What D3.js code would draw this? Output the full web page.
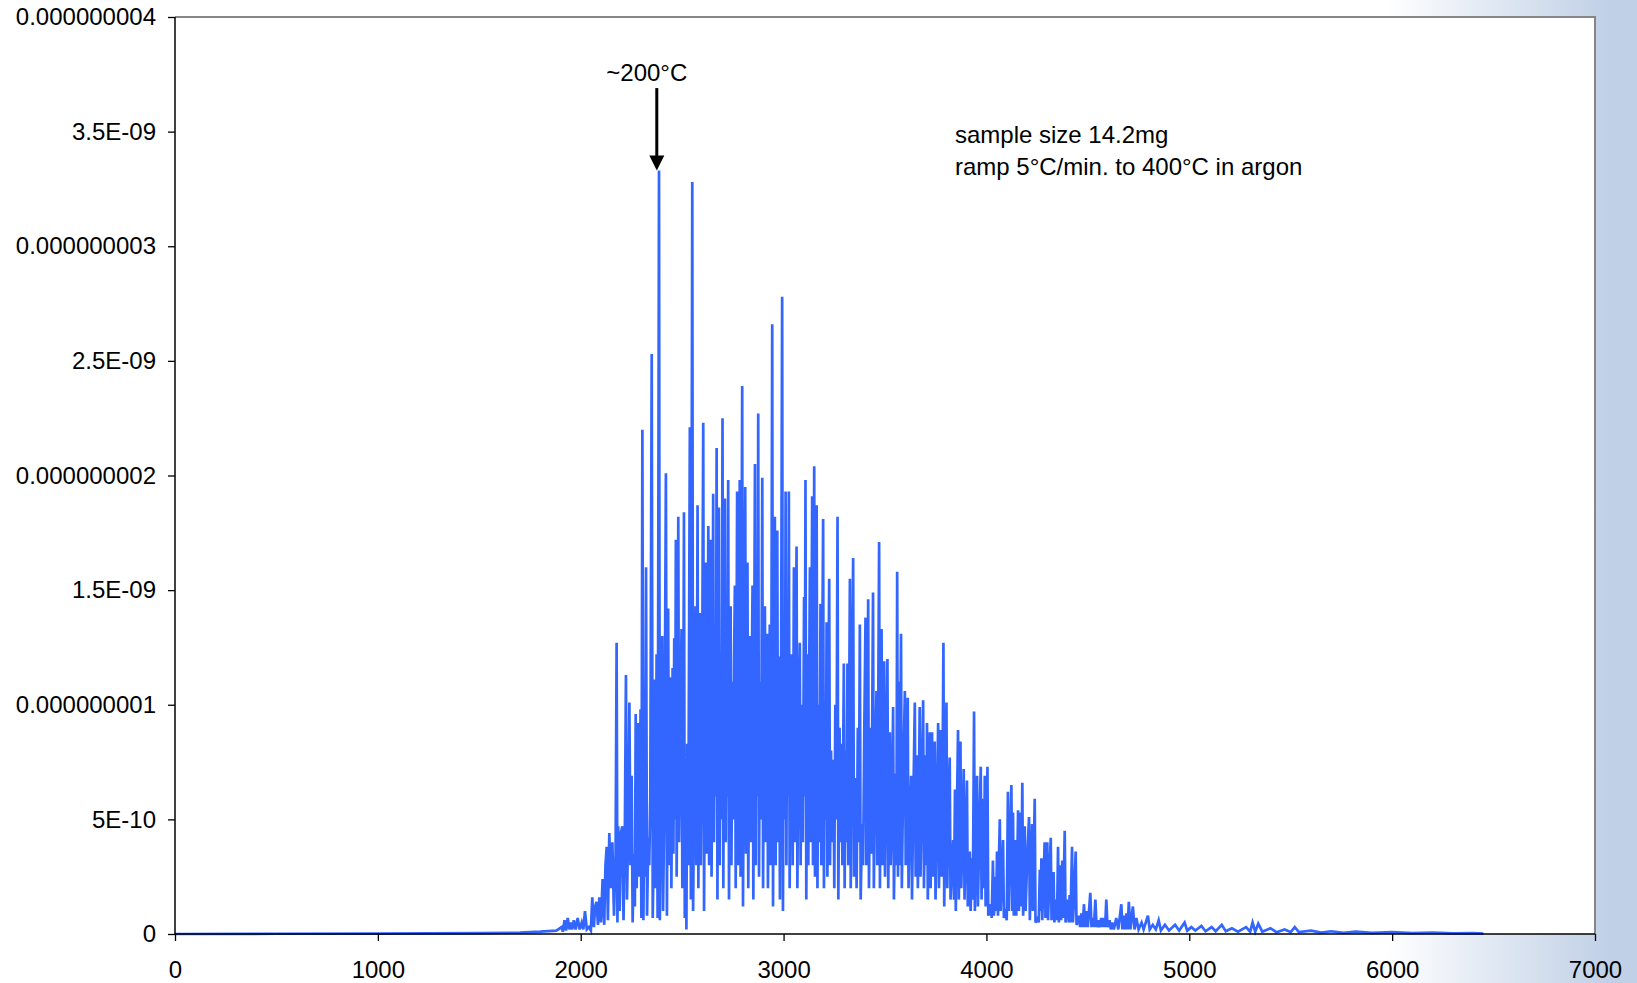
<!DOCTYPE html>
<html>
<head>
<meta charset="utf-8">
<script src="https://cdn.jsdelivr.net/npm/d3@7"></script>
<style>
  html, body { margin: 0; padding: 0; background: #ffffff; }
  svg { display: block; }
  text { font-family: "Liberation Sans", Arial, sans-serif; fill: #000; }
</style>
</head>
<body>
<svg id="chart" width="1637" height="983"></svg>
<script>
// ---------- DATA (signal values in units of 1e-9) ----------
const VALUE_UNIT = 1e-9;

const xTickValues = [0, 1000, 2000, 3000, 4000, 5000, 6000, 7000];
const xTickLabels = ["0", "1000", "2000", "3000", "4000", "5000", "6000", "7000"];
const yTickValues = [0, 0.5e-9, 1e-9, 1.5e-9, 2e-9, 2.5e-9, 3e-9, 3.5e-9, 4e-9];
const yTickLabels = ["0", "5E-10", "0.000000001", "1.5E-09", "0.000000002", "2.5E-09", "0.000000003", "3.5E-09", "0.000000004"];

const peakNote = { label: "~200°C", time: 2375, from: 3.69, to: 3.33 };
const infoLines = ["sample size 14.2mg", "ramp 5°C/min. to 400°C in argon"];

const baselineSeg = [[0,0],[500,0.001],[1000,0.002],[1500,0.004],[1700,0.006],[1800,0.01],[1880,0.015]];

const onsetSeg = [[1905,0.03],[1912,0.01],[1920,0.06],[1928,0.015],[1936,0.07],[1944,0.02],[1950,0.05],[1958,0.02],
  [1966,0.06],[1975,0.02],[1985,0.07],[1995,0.02],[2005,0.05],[2013,0.02],[2021,0.10],[2030,0.02],[2040,0.03],
  [2050,0.015],[2057,0.16],[2065,0.03],[2071,0.12],[2078,0.14],[2085,0.04],[2092,0.16],[2100,0.05],[2108,0.24],
  [2116,0.04],[2122,0.30],[2128,0.38],[2134,0.06],[2141,0.44],[2148,0.2],[2156,0.40],[2164,0.08],[2172,0.35]];

const riseSeg = [[2177,1.27],[2181,0.05],[2185,0.47],[2192,0.1],[2198,0.44],[2205,0.47],[2211,0.06],[2218,0.5],
  [2223,1.13],[2228,0.15],[2234,0.45],[2240,1.01],[2245,0.3],[2251,0.69],[2256,0.05],[2262,0.35],[2267,0.12],
  [2271,0.96],[2276,0.2],[2280,0.55],[2284,0.92],[2288,0.25],[2295,0.98],[2299,0.07],[2304,2.20],[2309,0.06],
  [2313,0.5],[2317,0.25],[2322,1.60],[2327,0.08],[2333,0.42],[2338,0.3],[2343,0.6],[2350,2.53],[2355,0.07],
  [2360,0.4],[2366,1.11],[2370,0.2],[2374,1.22],[2379,0.07],[2386,3.33],[2390,0.06],[2395,0.5],[2402,1.30],
  [2406,0.1],[2412,0.55],[2420,2.01],[2425,0.08],[2431,1.42],[2436,0.3],[2443,1.12],[2447,0.2],[2453,1.16],
  [2457,0.35],[2461,1.29],[2465,0.5],[2469,1.72],[2473,0.25],[2477,0.9],[2481,1.82],[2485,0.4],[2490,0.8],
  [2497,1.33],[2501,0.2],[2505,0.7],[2509,1.84],[2513,0.07],[2518,0.5],[2521,0.02],[2525,0.83],[2530,0.3],
  [2538,2.21],[2543,0.15],[2550,3.28]];

const crestSeg = [[2554,0.1],[2560,0.7],[2566,1.43],[2570,0.3],[2576,1.87],[2580,0.2],[2584,0.9],[2588,1.40],
  [2592,0.3],[2597,0.8],[2604,2.23],[2608,0.1],[2612,0.85],[2616,1.62],[2620,0.35],[2625,1.0],[2629,1.78],
  [2633,0.3],[2637,1.1],[2641,1.72],[2645,0.25],[2649,0.9],[2653,1.92],[2657,0.4],[2662,1.2],[2666,0.6],
  [2670,2.12],[2674,0.15],[2677,1.0],[2681,1.86],[2685,0.3],[2690,1.1],[2694,0.5],[2699,2.25],[2703,0.2],
  [2707,1.2],[2711,1.90],[2715,0.4],[2720,1.3],[2723,0.6],[2727,1.98],[2731,0.15],[2735,0.9],[2739,1.43],
  [2743,0.3],[2748,1.1],[2752,0.5],[2756,1.2],[2760,1.52],[2764,0.2],[2767,0.9],[2771,1.93],[2775,0.3],
  [2780,1.4],[2784,1.98],[2788,0.25],[2792,1.3],[2796,2.39],[2800,0.12],[2805,1.0],[2811,1.95],[2815,0.35],
  [2818,1.2],[2822,1.62],[2826,0.2],[2831,0.9],[2836,1.3],[2840,0.4],[2843,1.1],[2847,1.52],[2851,0.15],
  [2855,1.2],[2859,2.05],[2863,0.3],[2867,1.4],[2871,0.6],[2875,2.27],[2879,0.25],[2884,1.1],[2889,0.5],
  [2895,1.99],[2899,0.2],[2903,1.0],[2908,1.43],[2912,0.4],[2915,1.1],[2919,1.31],[2923,0.2],[2927,0.9],
  [2932,1.35],[2936,0.3],[2940,1.2],[2944,2.66],[2948,0.12],[2952,1.1],[2957,1.82],[2961,0.3],[2965,1.3],
  [2969,1.76],[2973,0.4],[2978,1.21],[2982,0.15],[2987,0.9],[2993,2.78],[2997,0.1]];

const plateauSeg = [[3002,1.2],[3006,0.5],[3010,1.93],[3014,0.3],[3018,1.3],[3022,0.6],[3026,1.93],[3030,0.2],
  [3035,1.0],[3041,1.22],[3045,0.3],[3051,1.60],[3055,0.4],[3060,1.2],[3064,1.69],[3068,0.2],[3073,0.9],
  [3080,1.27],[3084,0.3],[3090,1.0],[3095,0.4],[3101,1.47],[3104,0.6],[3108,1.98],[3112,0.15],[3118,1.22],
  [3122,0.3],[3126,1.1],[3130,1.60],[3134,0.4],[3137,1.2],[3141,1.91],[3145,0.3],[3151,2.04],[3155,0.25],
  [3159,1.3],[3163,1.87],[3167,0.2],[3172,1.0],[3177,0.4],[3182,1.44],[3186,0.3],[3190,1.1],[3195,1.81],
  [3199,0.2],[3204,0.9],[3208,0.5],[3212,1.36],[3216,0.25],[3220,1.0],[3225,1.55],[3229,0.3],[3234,0.8],
  [3240,0.4],[3246,0.76],[3250,0.2],[3255,1.0],[3260,0.5],[3266,1.82],[3270,0.15],[3276,0.9],[3281,0.4],
  [3286,0.83],[3290,0.3],[3297,1.18],[3301,0.2],[3306,0.8],[3310,0.4],[3315,1.18],[3319,0.3],[3327,1.55],
  [3331,0.2],[3336,0.9],[3343,1.64],[3347,0.25],[3352,0.5],[3356,0.68],[3360,0.2],[3366,0.9],[3371,0.4],
  [3376,1.35],[3380,0.15],[3387,0.48],[3392,0.3],[3398,0.9],[3404,1.38],[3408,0.3],[3412,0.7],[3417,1.46],
  [3421,0.2],[3428,0.90],[3432,0.35],[3436,0.8],[3441,1.49],[3445,0.2],[3451,0.7],[3458,1.06],[3462,0.3],
  [3466,0.9],[3471,1.71],[3475,0.2],[3479,0.9],[3483,1.33],[3487,0.3],[3492,0.8],[3496,1.19],[3500,0.25]];

const decaySeg = [[3507,0.8],[3512,1.20],[3516,0.2],[3520,0.6],[3524,0.88],[3528,0.3],[3535,0.6],[3540,0.99],
  [3544,0.15],[3552,0.7],[3556,0.3],[3560,1.58],[3564,0.25],[3568,1.10],[3572,0.3],[3579,1.31],[3583,0.2],
  [3590,0.7],[3598,1.06],[3602,0.3],[3607,0.6],[3612,1.03],[3616,0.2],[3622,0.5],[3629,0.69],[3633,0.15],
  [3640,0.6],[3647,1.01],[3651,0.25],[3658,0.78],[3662,0.2],[3667,0.6],[3671,0.99],[3675,0.25],[3681,0.6],
  [3688,1.02],[3692,0.2],[3696,0.5],[3701,0.78],[3704,0.3],[3707,0.92],[3711,0.15],[3716,0.5],[3721,0.88],
  [3725,0.2],[3732,0.88],[3736,0.25],[3740,0.5],[3745,0.84],[3749,0.15],[3755,0.5],[3762,0.92],[3766,0.2],
  [3770,0.6],[3775,0.89],[3779,0.25],[3783,0.6],[3788,1.27],[3792,0.12],[3797,0.5],[3803,1.01],[3807,0.2],
  [3812,0.5],[3819,0.77],[3823,0.15],[3830,0.3],[3836,0.41],[3840,0.15],[3845,0.63],[3849,0.1],[3854,0.5],
  [3860,0.89],[3864,0.15],[3868,0.5],[3872,0.84],[3876,0.2],[3882,0.45],[3888,0.72],[3892,0.15],[3898,0.4],
  [3904,0.67],[3908,0.12],[3913,0.25],[3918,0.36],[3922,0.1],[3929,0.33],[3933,0.15],[3939,0.97],[3943,0.1],
  [3948,0.4],[3954,0.69],[3958,0.12],[3964,0.4],[3972,0.73],[3976,0.15],[3983,0.59],[3987,0.2],[3992,0.69],
  [3996,0.12],[4000,0.4]];

const fadeSeg = [[4005,0.73],[4009,0.08],[4015,0.1],[4020,0.13],[4026,0.07],[4032,0.32],[4037,0.08],[4044,0.25],
  [4048,0.1],[4052,0.36],[4057,0.08],[4061,0.3],[4066,0.50],[4070,0.1],[4076,0.25],[4082,0.41],[4086,0.07],
  [4094,0.11],[4100,0.06],[4106,0.62],[4110,0.1],[4116,0.35],[4123,0.65],[4127,0.1],[4131,0.53],[4135,0.08],
  [4143,0.41],[4147,0.08],[4152,0.3],[4156,0.54],[4160,0.1],[4167,0.53],[4171,0.12],[4177,0.66],[4181,0.08],
  [4189,0.47],[4193,0.1],[4200,0.3],[4205,0.41],[4210,0.51],[4214,0.06],[4220,0.3],[4225,0.48],[4229,0.1],
  [4238,0.59],[4242,0.05],[4248,0.06],[4254,0.07],[4258,0.05],[4263,0.28],[4267,0.1],[4271,0.33],[4275,0.06],
  [4282,0.25],[4287,0.40],[4291,0.07],[4296,0.2],[4300,0.40],[4304,0.06],[4310,0.25],[4317,0.42],[4321,0.06],
  [4326,0.15],[4331,0.27],[4335,0.05],[4342,0.15],[4348,0.06],[4353,0.38],[4357,0.05],[4364,0.30],[4368,0.06],
  [4374,0.32],[4378,0.07],[4386,0.45],[4390,0.05],[4396,0.1],[4402,0.15],[4406,0.05],[4410,0.17],[4414,0.05],
  [4422,0.38],[4426,0.05],[4432,0.15],[4440,0.36],[4444,0.04],[4450,0.05],[4456,0.08],[4462,0.03],[4468,0.09],
  [4474,0.03],[4481,0.13],[4486,0.03],[4493,0.10],[4500,0.03]];

const tailSeg = [[4512,0.18],[4518,0.03],[4525,0.07],[4530,0.03],[4537,0.15],[4543,0.03],[4550,0.06],[4557,0.03],
  [4566,0.07],[4572,0.03],[4579,0.07],[4585,0.03],[4591,0.15],[4597,0.03],[4607,0.06],[4613,0.02],[4620,0.05],
  [4628,0.02],[4640,0.07],[4650,0.02],[4665,0.13],[4670,0.02],[4676,0.08],[4683,0.02],[4690,0.09],[4696,0.02],
  [4702,0.14],[4710,0.02],[4722,0.12],[4730,0.02],[4739,0.07],[4750,0.02],[4765,0.05],[4775,0.02],[4796,0.08],
  [4805,0.02],[4820,0.04],[4835,0.02],[4849,0.06],[4860,0.015],[4880,0.04],[4900,0.015],[4930,0.04],[4950,0.015],
  [4977,0.05],[4990,0.015],[5010,0.03],[5030,0.015],[5060,0.035],[5080,0.012],[5110,0.03],[5130,0.012],
  [5160,0.04],[5180,0.012],[5210,0.025],[5240,0.01],[5280,0.03],[5300,0.01],[5312,0.05],[5325,0.01],[5340,0.045],
  [5360,0.01],[5400,0.025],[5430,0.008],[5470,0.02],[5500,0.008],[5520,0.03],[5540,0.008],[5600,0.015],
  [5650,0.006],[5700,0.012],[5760,0.005],[5820,0.01],[5900,0.005],[6000,0.008],[6100,0.004],[6200,0.006],
  [6300,0.003],[6400,0.004],[6450,0.002]];

const series = [].concat(baselineSeg, onsetSeg, riseSeg, crestSeg, plateauSeg, decaySeg, fadeSeg, tailSeg)
  .map(([t, v]) => ({ t: t, v: v * VALUE_UNIT }));

// ---------- LAYOUT ----------
const W = 1637, H = 983;
const plot = { left: 175, top: 17, right: 1595, bottom: 934 };
const FONT = 24;

const svg = d3.select("#chart");

// background gradient (white -> light steel blue at right)
const defs = svg.append("defs");
const grad = defs.append("linearGradient").attr("id", "bg")
  .attr("gradientUnits", "userSpaceOnUse").attr("x1", 1385).attr("y1", 0).attr("x2", 1610).attr("y2", 0);
grad.append("stop").attr("offset", "0").attr("stop-color", "#ffffff");
grad.append("stop").attr("offset", "1").attr("stop-color", "#c0d0e6");
svg.append("rect").attr("width", W).attr("height", H).attr("fill", "url(#bg)");

const x = d3.scaleLinear().domain([0, 7000]).range([plot.left, plot.right]);
const y = d3.scaleLinear().domain([0, 4e-9]).range([plot.bottom, plot.top]);

// plot area
svg.append("rect")
  .attr("x", plot.left).attr("y", plot.top)
  .attr("width", plot.right - plot.left).attr("height", plot.bottom - plot.top)
  .attr("fill", "#ffffff");

// data line
const line = d3.line().x(d => x(d.t)).y(d => y(d.v));
svg.append("path")
  .datum(series)
  .attr("d", line)
  .attr("fill", "none")
  .attr("stroke", "#3366ff")
  .attr("stroke-width", 2.7)
  .attr("stroke-linejoin", "miter");

// top and right frame (grey)
svg.append("path")
  .attr("d", `M${plot.left},${plot.top}H${plot.right}V${plot.bottom}`)
  .attr("fill", "none").attr("stroke", "#868686").attr("stroke-width", 2);

// axes
const yAxis = d3.axisLeft(y).tickValues(yTickValues)
  .tickFormat((d, i) => yTickLabels[i]).tickSize(7).tickPadding(12);
const xAxis = d3.axisBottom(x).tickValues(xTickValues)
  .tickFormat((d, i) => xTickLabels[i]).tickSize(7).tickPadding(20);

const gy = svg.append("g").attr("transform", `translate(${plot.left},0)`).call(yAxis);
const gx = svg.append("g").attr("transform", `translate(0,${plot.bottom})`).call(xAxis);
[gx, gy].forEach(g => {
  g.select(".domain").attr("stroke", "#000").attr("stroke-width", 1.5);
  g.selectAll(".tick line").attr("stroke", "#000").attr("stroke-width", 1.3);
  g.selectAll(".tick text").attr("font-size", FONT).attr("fill", "#000")
    .attr("font-family", "'Liberation Sans', Arial, sans-serif");
});
gy.select(".domain").attr("d", `M0,${plot.top}V${plot.bottom}`);
gx.select(".domain").attr("d", `M${plot.left},0H${plot.right}`);

// peak annotation arrow
const ax = x(peakNote.time);
const yTop = y(peakNote.from * VALUE_UNIT);
const yTip = y(peakNote.to * VALUE_UNIT);
svg.append("line")
  .attr("x1", ax).attr("x2", ax).attr("y1", yTop).attr("y2", yTip - 14)
  .attr("stroke", "#000").attr("stroke-width", 3);
svg.append("path")
  .attr("d", `M${ax - 7.5},${yTip - 15}L${ax + 7.5},${yTip - 15}L${ax},${yTip}Z`)
  .attr("fill", "#000");
svg.append("text")
  .attr("x", ax - 10).attr("y", yTop - 7)
  .attr("text-anchor", "middle")
  .attr("font-size", FONT)
  .text(peakNote.label);

// info text
const info = svg.append("text")
  .attr("x", x(3845)).attr("y", y(3.449e-9))
  .attr("font-size", FONT);
infoLines.forEach((s, i) => {
  info.append("tspan").attr("x", x(3845)).attr("dy", i === 0 ? 0 : 31.2).text(s);
});
</script>
</body>
</html>
